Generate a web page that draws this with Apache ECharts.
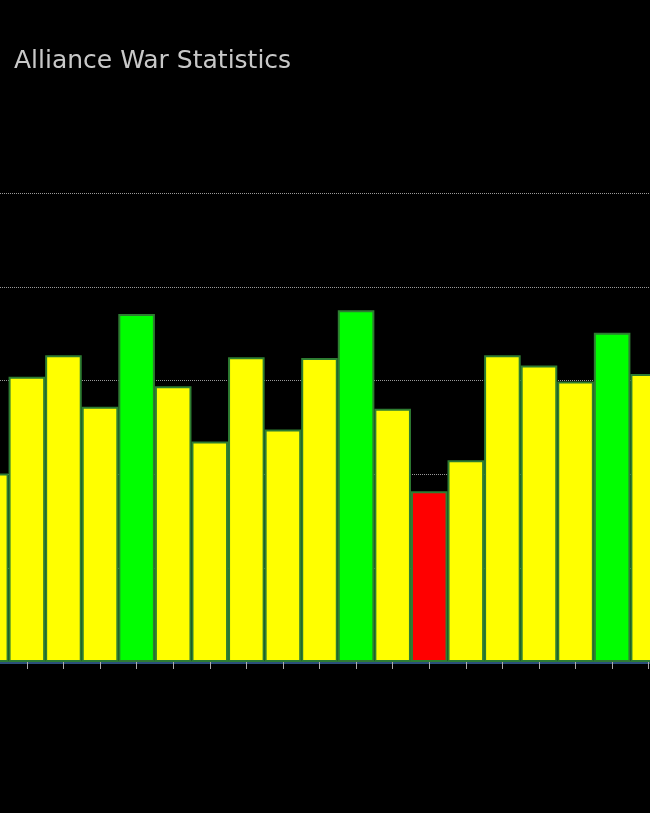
<!DOCTYPE html>
<html>
<head>
<meta charset="utf-8">
<script src="https://cdn.jsdelivr.net/npm/echarts@6/dist/echarts.min.js"></script>
<style>
html,body{margin:0;padding:0;background:#000;overflow:hidden;width:650px;height:813px;}
#chart{position:absolute;left:-28px;top:0;width:695px;height:813px;}
</style>
</head>
<body>
<div id="chart"></div>
<script>
const titleText = 'Alliance War Statistics';
const categories = ['W1','W2','W3','W4','W5','W6','W7','W8','W9','W10','W11','W12','W13','W14','W15','W16','W17','W18','W19'];
const values = [2.01, 3.04, 3.27, 2.72, 3.71, 2.94, 2.35, 3.25, 2.48, 3.24, 3.75, 2.70, 1.82, 2.15, 3.27, 3.16, 2.99, 3.51, 3.07];
const yTicks = [0, 1, 2, 3, 4, 5];

function barColor(v) {
  if (v >= 3.5) return '#00ff00';
  if (v < 2) return '#ff0000';
  return '#ffff00';
}

const chart = echarts.init(document.getElementById('chart'), null, {renderer: 'canvas'});
chart.setOption({
  backgroundColor: '#000000',
  animation: false,
  title: {
    text: titleText,
    left: 37,
    top: 44,
    textStyle: {color: '#c8c8c8', fontSize: 25, fontWeight: 'normal', fontFamily: 'DejaVu Sans'}
  },
  grid: {left: 0, right: 0, top: 193, bottom: 151, containLabel: false},
  xAxis: {
    type: 'category',
    data: categories,
    axisLine: {show: true, lineStyle: {color: '#2b4f7a', width: 3}},
    axisTick: {show: true, alignWithLabel: true, length: 7, lineStyle: {color: '#aaaaaa', width: 1}},
    axisLabel: {show: false}
  },
  yAxis: {
    type: 'value',
    min: yTicks[0],
    max: yTicks[yTicks.length - 1],
    interval: 1,
    axisLine: {show: false},
    axisTick: {show: false},
    axisLabel: {show: false},
    splitLine: {show: true, lineStyle: {color: '#9a9a9a', type: 'dotted', width: 1}}
  },
  series: [{
    type: 'bar',
    data: values,
    barCategoryGap: '0%',
    itemStyle: {
      color: function (p) { return barColor(p.value); },
      borderColor: '#2e7d32',
      borderWidth: 2
    }
  }]
});
</script>
</body>
</html>
